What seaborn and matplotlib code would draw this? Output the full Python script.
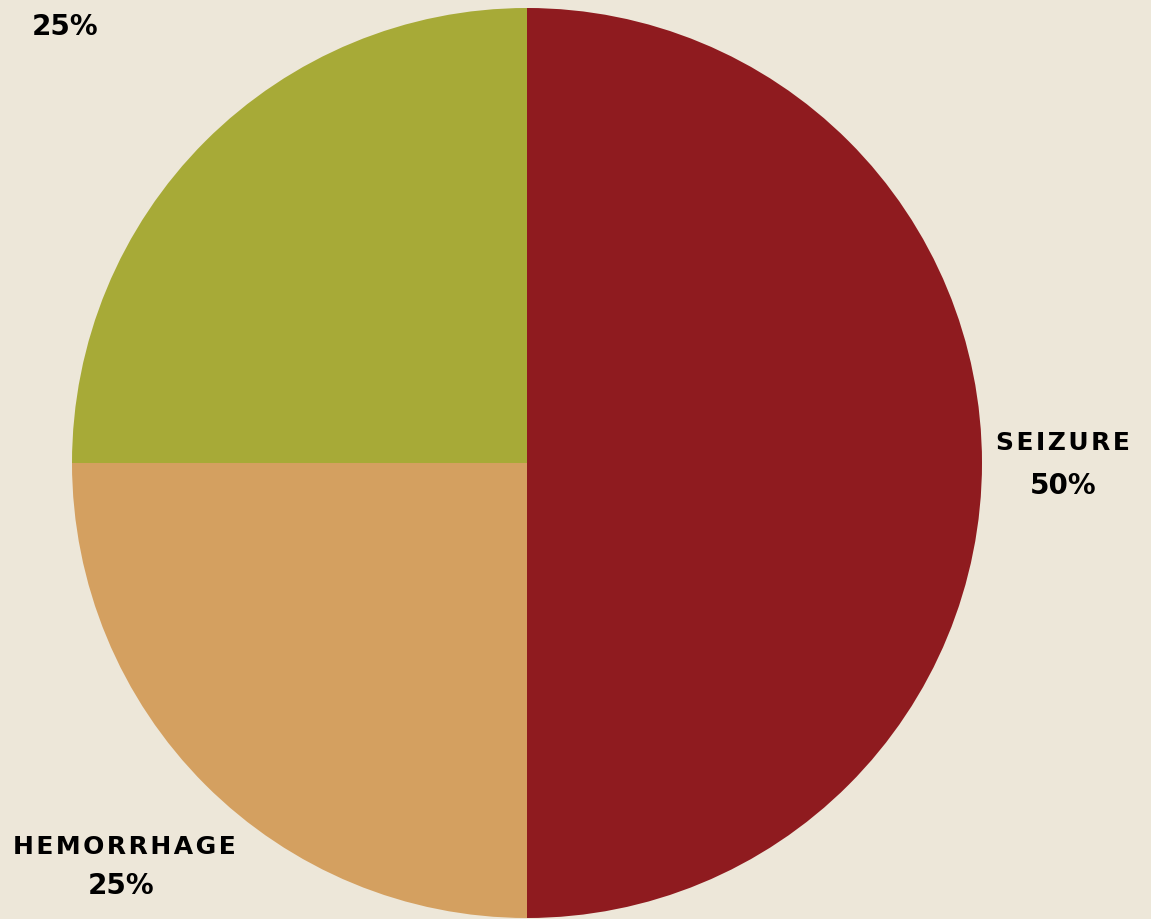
import matplotlib
matplotlib.use("Agg")
import matplotlib.pyplot as plt
import seaborn as sns

# data (clockwise from the top)
categories = ["Seizure", "Hemorrhage", ""]
shares = [50, 25, 25]
colors = ["#8f1b1f", "#d4a060", "#a7aa37"]
bg = "#ede7d9"

sns.set_theme(style="white")
plt.rcParams["font.family"] = ["DejaVu Sans"]

fig = plt.figure(figsize=(11.51, 9.19), dpi=100, facecolor=bg)
ax = fig.add_axes([72 / 1151, 1 / 919, 910 / 1151, 910 / 919])
ax.set_facecolor(bg)

# wide, lightly spaced caps like the original lettering
labels = ["\u200a".join(name.upper()) for name in categories]

wedges, texts, pcts = ax.pie(shares, labels=labels, colors=colors, startangle=90,
                             counterclock=False, labeldistance=1.25,
                             autopct="%d%%", pctdistance=1.25,
                             wedgeprops=dict(linewidth=0),
                             textprops=dict(color="black", fontweight="bold"))

for t in texts:
    t.set_fontsize(18)
for p in pcts:
    p.set_fontsize(20)
for t in list(texts) + list(pcts):
    t.set_ha("center")
    t.set_va("center")
    t.set_clip_on(False)

# put labels where they sit in the reference
texts[0].set_position((1.178, 0.044))
pcts[0].set_position((1.178, -0.051))
texts[1].set_position((-0.884, -0.844))
pcts[1].set_position((-0.892, -0.930))
pcts[2].set_position((-1.015, 0.958))

ax.set_xlim(-1, 1)
ax.set_ylim(-1, 1)
ax.set_aspect("equal")
ax.axis("off")

fig.savefig("out.png", dpi=100, facecolor=bg)
